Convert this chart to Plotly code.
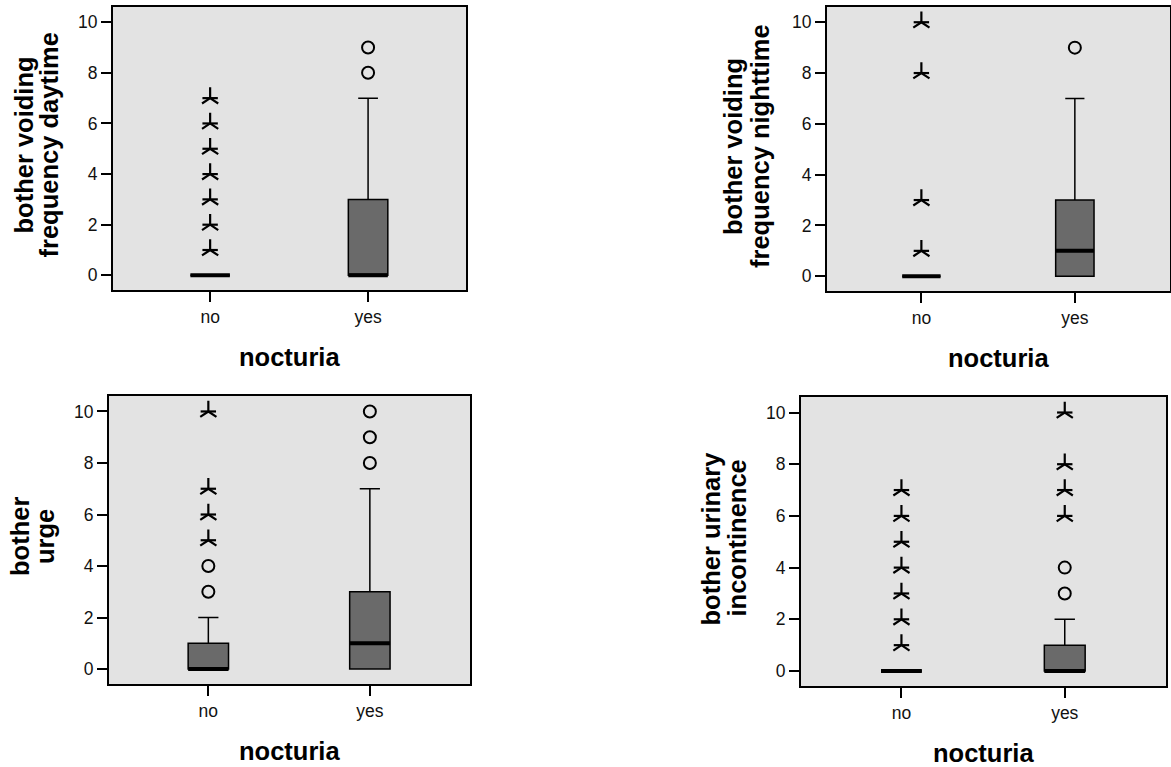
import plotly.graph_objects as go

# ---------------- data ----------------
categories = ["no", "yes"]
y_titles = [
    ["bother voiding", "frequency daytime"],
    ["bother voiding", "frequency nighttime"],
    ["bother", "urge"],
    ["bother urinary", "incontinence"],
]
x_title = "nocturia"
y_ticks = [0, 2, 4, 6, 8, 10]

# box statistics per panel, [no, yes]
q1 = [[0, 0], [0, 0], [0, 0], [0, 0]]
median = [[0, 0], [0, 1], [0, 1], [0, 0]]
q3 = [[0, 3], [0, 3], [1, 3], [0, 1]]
lower_fence = [[0, 0], [0, 0], [0, 0], [0, 0]]
upper_fence = [[0, 7], [0, 7], [2, 7], [0, 2]]
# outliers (circles) and extremes (asterisks)
outliers = [[[], [8, 9]], [[], [9]], [[3, 4], [8, 9, 10]], [[], [3, 4]]]
extremes = [[[1, 2, 3, 4, 5, 6, 7], []], [[1, 3, 8, 10], []],
            [[5, 6, 7, 10], []], [[1, 2, 3, 4, 5, 6, 7], [6, 7, 8, 10]]]

# ---------------- layout (pixel boxes of the plot areas) ----------------
W, H = 1171, 767
plot_px = [  # left, right, top, bottom
    (113, 466, 7, 290),
    (827, 1170, 7, 291),
    (109, 470, 396, 684),
    (801, 1166, 397, 686),
]
title_offsets = [(-90, -65), (-94, -67), (-89, -64), (-91, -65)]
BOX_W = 0.25
FONT = "Liberation Sans, Arial, sans-serif"

fig = go.Figure()
annotations = []
layout_axes = {}

for p in range(4):
    l, r, t, b = plot_px[p]
    sfx = "" if p == 0 else str(p + 1)
    xa, ya = "x" + sfx, "y" + sfx
    for i, cat in enumerate(categories):
        fig.add_trace(go.Box(
            x=[i], q1=[q1[p][i]], median=[median[p][i]], q3=[q3[p][i]],
            lowerfence=[lower_fence[p][i]], upperfence=[upper_fence[p][i]],
            width=BOX_W, whiskerwidth=0.5, fillcolor="#6a6a6a",
            line=dict(color="black", width=1.5), boxpoints=False,
            xaxis=xa, yaxis=ya, showlegend=False, hoverinfo="skip"))
        # thick median line
        fig.add_trace(go.Scatter(
            x=[i - BOX_W / 2, i + BOX_W / 2], y=[median[p][i]] * 2,
            mode="lines", line=dict(color="black", width=4),
            xaxis=xa, yaxis=ya, showlegend=False, hoverinfo="skip"))
        if outliers[p][i]:
            fig.add_trace(go.Scatter(
                x=[i] * len(outliers[p][i]), y=outliers[p][i], mode="markers",
                marker=dict(symbol="circle-open", size=12, color="black",
                            line=dict(width=2, color="black")),
                xaxis=xa, yaxis=ya, showlegend=False))
        if extremes[p][i]:
            # five-armed star = "y" glyph + horizontal bar
            for sym, sz in (("y-up-open", 13.5), ("line-ew-open", 11)):
                fig.add_trace(go.Scatter(
                    x=[i] * len(extremes[p][i]), y=extremes[p][i],
                    mode="markers",
                    marker=dict(symbol=sym, size=sz, color="black",
                                line=dict(width=2.2, color="black")),
                    xaxis=xa, yaxis=ya, showlegend=False))

    layout_axes["xaxis" + sfx] = dict(
        domain=[l / W, r / W], anchor=ya, range=[-0.615, 1.62],
        tickvals=[0, 1], ticktext=categories, ticks="outside", ticklen=10,
        tickwidth=2, tickcolor="black", showline=True, mirror=True,
        linewidth=2, linecolor="black", showgrid=False, zeroline=False,
        tickfont=dict(family=FONT, size=17.5, color="#111"), fixedrange=True)
    layout_axes["yaxis" + sfx] = dict(
        domain=[1 - b / H, 1 - t / H], anchor=xa, range=[-0.58, 10.6],
        tickvals=y_ticks, ticks="outside", ticklen=10, tickwidth=2,
        tickcolor="black", showline=True, mirror=True, linewidth=2,
        linecolor="black", showgrid=False, zeroline=False,
        tickfont=dict(family=FONT, size=17.5, color="#111"), fixedrange=True)

    # axis titles
    ymid = (t + b) / 2 - 3
    for k, txt in enumerate(y_titles[p]):
        annotations.append(dict(
            text="<b>%s</b>" % txt, x=(l + title_offsets[p][k]) / W,
            y=1 - ymid / H, xref="paper", yref="paper", xanchor="center",
            yanchor="middle", textangle=-90, showarrow=False,
            font=dict(family=FONT, size=25.5, color="black")))
    annotations.append(dict(
        text="<b>%s</b>" % x_title, x=(l + r) / 2 / W, y=1 - (b + 67) / H,
        xref="paper", yref="paper", xanchor="center", yanchor="middle",
        showarrow=False, font=dict(family=FONT, size=25.5, color="black")))

fig.update_layout(
    width=W, height=H, margin=dict(l=0, r=0, t=0, b=0),
    paper_bgcolor="white", plot_bgcolor="#e3e3e3", hovermode=False,
    annotations=annotations, **layout_axes)

fig.write_html("out.html", config={"displayModeBar": False},
               post_script="document.body.style.margin='0px';"
                           "document.body.style.overflow='hidden';")
